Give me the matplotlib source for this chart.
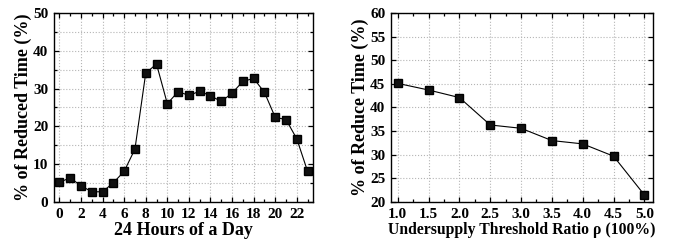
import matplotlib
matplotlib.use('Agg')
import matplotlib.pyplot as plt
from matplotlib.ticker import MultipleLocator

# 左图：一天24小时
hours = list(range(24))
reduced_time = [5.2, 6.4, 4.3, 2.7, 2.7, 5.1, 8.1, 14.0, 34.1, 36.5, 26.0, 29.2,
                28.2, 29.3, 28.1, 26.6, 28.8, 31.9, 32.7, 29.0, 22.4, 21.8, 16.7, 8.1]

# 右图：阈值比例
ratios = [1.0, 1.5, 2.0, 2.5, 3.0, 3.5, 4.0, 4.5, 5.0]
reduce_time = [45.1, 43.7, 42.1, 36.3, 35.6, 33.0, 32.3, 29.7, 21.5]

plt.rcParams['font.family'] = ['Liberation Serif', 'DejaVu Serif']
plt.rcParams['font.weight'] = 'bold'

fig = plt.figure(figsize=(6.73, 2.43), dpi=100)
ax1 = fig.add_axes([54 / 673, 41 / 243, 259 / 673, 189 / 243])
ax2 = fig.add_axes([391 / 673, 41 / 243, 262 / 673, 189 / 243])


def style(ax):
    ax.tick_params(which='both', direction='in', top=True, right=True,
                   labelsize=11, width=0.9, pad=4)
    ax.tick_params(which='major', length=3.5)
    ax.tick_params(which='minor', length=2)
    for s in ax.spines.values():
        s.set_linewidth(1.0)
    ax.grid(which='major', axis='x', linestyle=':', color='#b5b5b5', linewidth=0.8)
    ax.grid(which='both', axis='y', linestyle=':', color='#b5b5b5', linewidth=0.8)
    ax.set_axisbelow(True)
    for lab in ax.get_xticklabels() + ax.get_yticklabels():
        lab.set_fontweight('bold')


ax1.plot(hours, reduced_time, color='black', linewidth=0.8, marker='s',
         markersize=6, markerfacecolor='#111111', markeredgecolor='black')
ax1.set_xlim(-0.5, 23.5)
ax1.set_ylim(0, 50)
ax1.xaxis.set_major_locator(MultipleLocator(2))
ax1.xaxis.set_minor_locator(MultipleLocator(1))
ax1.yaxis.set_major_locator(MultipleLocator(10))
ax1.yaxis.set_minor_locator(MultipleLocator(5))
style(ax1)
ax1.set_xlabel('24 Hours of a Day', fontsize=13, fontweight='bold', labelpad=1)
ax1.set_ylabel('% of Reduced Time (%)', fontsize=13, fontweight='bold', labelpad=1)

ax2.plot(ratios, reduce_time, color='black', linewidth=0.8, marker='s',
         markersize=6, markerfacecolor='#111111', markeredgecolor='black')
ax2.set_xlim(0.89, 5.14)
ax2.set_ylim(20, 60)
ax2.xaxis.set_minor_locator(MultipleLocator(0.25))
ax2.yaxis.set_major_locator(MultipleLocator(5))
ax2.set_xticks(ratios)
ax2.set_xticklabels([f'{r:.1f}' for r in ratios])
style(ax2)
ax2.set_xlabel('Undersupply Threshold Ratio ρ (100%)', fontsize=11.3,
               fontweight='bold', labelpad=1)
ax2.set_ylabel('% of Reduce Time (%)', fontsize=13, fontweight='bold', labelpad=1)

fig.savefig('out.png', dpi=100)
